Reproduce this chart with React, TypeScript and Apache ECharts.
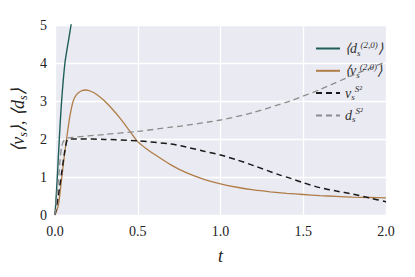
import React, { useEffect, useRef } from "react";
import * as echarts from "echarts";

const tD20 = [0, 0.014, 0.026, 0.04, 0.06, 0.08, 0.097, 0.11];
const yD20 = [0, 1, 2, 3, 4, 4.55, 5, 5.35];

const tV20 = [0, 0.02, 0.04, 0.055, 0.07, 0.09, 0.11, 0.13, 0.16, 0.187, 0.22, 0.25, 0.3, 0.35, 0.4, 0.45, 0.5, 0.55, 0.6, 0.7, 0.8, 0.9, 1.0, 1.1, 1.2, 1.3, 1.4, 1.5, 1.6, 1.7, 1.8, 1.9, 2.0];
const yV20 = [0, 0.25, 0.95, 1.5, 2.0, 2.6, 3.0, 3.17, 3.27, 3.29, 3.25, 3.18, 3.0, 2.77, 2.51, 2.22, 1.93, 1.75, 1.6, 1.32, 1.1, 0.94, 0.82, 0.73, 0.66, 0.61, 0.57, 0.54, 0.51, 0.49, 0.47, 0.46, 0.45];

const tVS2 = [0, 0.02, 0.04, 0.06, 0.08, 0.15, 0.3, 0.5, 0.7, 0.76, 0.9, 1.0, 1.1, 1.2, 1.36, 1.42, 1.5, 1.6, 1.7, 1.8, 1.9, 2.0];
const yVS2 = [0, 0.5, 1.1, 1.7, 2.0, 2.0, 1.99, 1.95, 1.87, 1.82, 1.68, 1.58, 1.45, 1.3, 1.05, 0.97, 0.85, 0.72, 0.63, 0.55, 0.45, 0.35];

const tDS2 = [0, 0.02, 0.04, 0.06, 0.1, 0.3, 0.5, 0.7, 0.76, 1.0, 1.2, 1.42, 1.6, 1.8, 2.0];
const yDS2 = [0, 0.9, 1.8, 2.0, 2.04, 2.12, 2.2, 2.31, 2.34, 2.5, 2.7, 3.0, 3.3, 3.68, 4.03];

const xTicks = [0, 0.5, 1.0, 1.5, 2.0];
const yTicks = [0, 1, 2, 3, 4, 5];

const zip = (a: number[], b: number[]) => a.map((v, i) => [v, b[i]]);

const SERIF = "Liberation Serif";

export default function App() {
  const ref = useRef<HTMLDivElement>(null);
  useEffect(() => {
    if (!ref.current) return;
    const chart = echarts.init(ref.current, undefined, { renderer: "svg" });
    const legendLabels: Record<string, string> = {
      d20: "{m|\u27E8d}{sub|s}{sup|(2,0)}{m|\u27E9}",
      v20: "{m|\u27E8v}{sub|s}{sup|(2,0)}{m|\u27E9}",
      vS2: "{m|v}{sub|s}{sup|S\u00B2}",
      dS2: "{m|d}{sub|s}{sup|S\u00B2}",
    };
    chart.setOption({
      animation: false,
      backgroundColor: "#ffffff",
      textStyle: { fontFamily: SERIF },
      grid: {
        left: 55,
        right: 29,
        top: 25,
        bottom: 62,
        show: true,
        backgroundColor: "#eaeaf2",
        borderWidth: 0,
      },
      legend: {
        orient: "vertical",
        left: 310,
        top: 35,
        itemWidth: 24,
        itemHeight: 14,
        itemGap: 5.3,
        itemStyle: { opacity: 0 },
        data: ["d20", "v20", "vS2", "dS2"],
        formatter: (name: string) => legendLabels[name],
        textStyle: {
          color: "#333",
          fontFamily: SERIF,
          rich: {
            m: { fontFamily: SERIF, fontStyle: "italic", fontSize: 14, lineHeight: 17, verticalAlign: "middle", color: "#333" },
            sub: { fontFamily: SERIF, fontStyle: "italic", fontSize: 9, verticalAlign: "bottom", lineHeight: 17, color: "#333" },
            sup: { fontFamily: SERIF, fontStyle: "italic", fontSize: 9, verticalAlign: "top", lineHeight: 17, color: "#333" },
          },
        },
      },
      xAxis: {
        type: "value",
        min: 0,
        max: 2,
        interval: 0.5,
        name: "t",
        nameLocation: "middle",
        nameGap: 32,
        nameTextStyle: { fontFamily: SERIF, fontStyle: "italic", fontSize: 18, color: "#222" },
        axisLine: { show: false },
        axisTick: { show: false },
        axisLabel: {
          fontFamily: SERIF,
          fontSize: 14,
          color: "#222",
          margin: 9,
          formatter: (v: number) => (xTicks.includes(v) ? v.toFixed(1) : ""),
        },
        splitLine: { show: true, lineStyle: { color: "#ffffff", width: 1.3 } },
      },
      yAxis: {
        type: "value",
        min: 0,
        max: 5,
        interval: 1,
        name: "{m|\u27E8v}{sub|s}{m|\u27E9, \u27E8d}{sub|s}{m|\u27E9}",
        nameLocation: "middle",
        nameGap: 26,
        nameRotate: 90,
        nameTextStyle: {
          color: "#222",
          fontFamily: SERIF,
          rich: {
            m: { fontFamily: SERIF, fontStyle: "italic", fontSize: 18, lineHeight: 22, verticalAlign: "middle", color: "#222" },
            sub: { fontFamily: SERIF, fontStyle: "italic", fontSize: 12, lineHeight: 22, verticalAlign: "bottom", color: "#222" },
          },
        },
        axisLine: { show: false },
        axisTick: { show: false },
        axisLabel: {
          fontFamily: SERIF,
          fontSize: 14,
          color: "#222",
          margin: 8,
          formatter: (v: number) => (yTicks.includes(v) ? String(v) : ""),
        },
        splitLine: { show: true, lineStyle: { color: "#ffffff", width: 1.3 } },
      },
      series: [
        {
          name: "d20",
          type: "line",
          data: zip(tD20, yD20),
          showSymbol: false,
          symbol: "none",
          smooth: 0.25,
          clip: true,
          lineStyle: { color: "#1f5e58", width: 1.4 },
          itemStyle: { color: "#1f5e58" },
        },
        {
          name: "v20",
          type: "line",
          data: zip(tV20, yV20),
          showSymbol: false,
          symbol: "none",
          smooth: 0.25,
          clip: true,
          lineStyle: { color: "#b07d48", width: 1.3 },
          itemStyle: { color: "#b07d48" },
        },
        {
          name: "vS2",
          type: "line",
          data: zip(tVS2, yVS2),
          showSymbol: false,
          symbol: "none",
          smooth: 0.25,
          clip: true,
          lineStyle: { color: "#1a1a1a", width: 1.5, type: [6, 4] },
          itemStyle: { color: "#1a1a1a" },
        },
        {
          name: "dS2",
          type: "line",
          data: zip(tDS2, yDS2),
          showSymbol: false,
          symbol: "none",
          smooth: 0.25,
          clip: true,
          lineStyle: { color: "#8c8c8c", width: 1.3, type: [6, 4] },
          itemStyle: { color: "#8c8c8c" },
        },
      ],
    });
    return () => chart.dispose();
  }, []);
  return (
    <div
      ref={ref}
      style={{ position: "fixed", left: 0, top: 0, width: 415, height: 277 }}
    />
  );
}
